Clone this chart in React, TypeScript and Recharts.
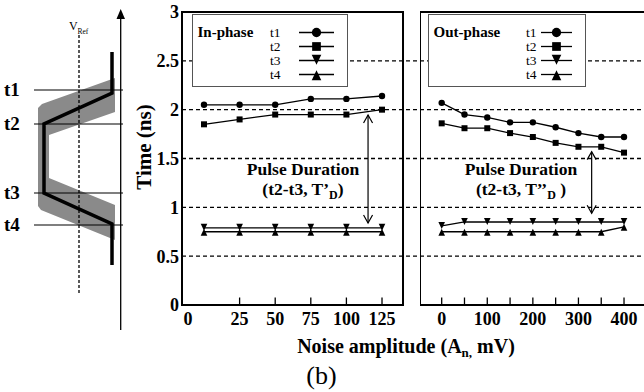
import React from 'react';
import {
  LineChart,
  Line,
  XAxis,
  YAxis,
  CartesianGrid,
  ReferenceArea,
  ReferenceLine,
  ReferenceDot,
  Legend,
} from 'recharts';

const FONT = '"Liberation Serif", "Times New Roman", "DejaVu Serif", serif';

// ---- data: In-phase panel ----
const inPhaseAmp = [0, 25, 50, 75, 100, 125];
const inPhaseT1 = [2.05, 2.05, 2.05, 2.11, 2.11, 2.14];
const inPhaseT2 = [1.85, 1.9, 1.95, 1.95, 1.95, 2.0];
const inPhaseT3 = [0.79, 0.79, 0.79, 0.79, 0.79, 0.79];
const inPhaseT4 = [0.75, 0.75, 0.75, 0.75, 0.75, 0.75];

// ---- data: Out-phase panel ----
const outPhaseAmp = [0, 50, 100, 150, 200, 250, 300, 350, 400];
const outPhaseT1 = [2.07, 1.95, 1.92, 1.87, 1.87, 1.82, 1.76, 1.72, 1.72];
const outPhaseT2 = [1.86, 1.81, 1.81, 1.76, 1.72, 1.66, 1.62, 1.62, 1.56];
const outPhaseT3 = [0.81, 0.85, 0.85, 0.85, 0.85, 0.85, 0.85, 0.85, 0.85];
const outPhaseT4 = [0.75, 0.75, 0.75, 0.75, 0.75, 0.75, 0.75, 0.75, 0.8];

// ---- labels / ticks ----
const seriesNames = ['t1', 't2', 't3', 't4'];
const markerKinds = ['circle', 'square', 'down', 'up'];
const timeTicks = [0, 0.5, 1, 1.5, 2, 2.5, 3];
const gridValues = [0.5, 1, 1.5, 2, 2.5];
const inPhaseTicks = [0, 25, 50, 75, 100, 125];
const outPhaseTicks = [0, 50, 100, 150, 200, 250, 300, 350, 400];
const outPhaseLabelTicks = [0, 100, 200, 300, 400];

const inRows = inPhaseAmp.map((a, i) => ({
  amp: a,
  t1: inPhaseT1[i],
  t2: inPhaseT2[i],
  t3: inPhaseT3[i],
  t4: inPhaseT4[i],
}));
const outRows = outPhaseAmp.map((a, i) => ({
  amp: a,
  t1: outPhaseT1[i],
  t2: outPhaseT2[i],
  t3: outPhaseT3[i],
  t4: outPhaseT4[i],
}));

// panel geometry (axis domains)
const inDomain: [number, number] = [-15.45, 151.68];
const inBoxRight = 139.75;
const outDomain: [number, number] = [-47.6, 457.0];

function Marker({ kind, cx, cy, s = 1 }: any) {
  if (cx == null || cy == null) return null;
  switch (kind) {
    case 'circle':
      return <circle cx={cx} cy={cy} r={3.2 * s} fill="#000" />;
    case 'square':
      return <rect x={cx - 3 * s} y={cy - 3 * s} width={6 * s} height={6 * s} fill="#000" />;
    case 'down':
      return (
        <path
          d={`M${cx - 3.3 * s},${cy - 4 * s}L${cx + 3.3 * s},${cy - 4 * s}L${cx},${cy + 3 * s}Z`}
          fill="#000"
        />
      );
    default:
      return (
        <path
          d={`M${cx - 3.3 * s},${cy + 4 * s}L${cx + 3.3 * s},${cy + 4 * s}L${cx},${cy - 3 * s}Z`}
          fill="#000"
        />
      );
  }
}

function makeTick(labelSet: number[], markSet: number[], shiftZero: number) {
  return (props: any) => {
    const { x, y, payload } = props;
    const v = payload.value;
    return (
      <g>
        {markSet.includes(v) && <line x1={x} y1={y} x2={x} y2={y - 7.5} stroke="#000" strokeWidth={1.3} />}
        {labelSet.includes(v) && (
          <text
            x={x + (v === 0 ? shiftZero : 0)}
            y={y + 20}
            textAnchor="middle"
            fontFamily={FONT}
            fontWeight="bold"
            fontSize={18}
            fill="#000"
          >
            {v}
          </text>
        )}
      </g>
    );
  };
}

function LegendContent({ title, width, textX, lineX1, lineX2 }: any) {
  const rowsY = [17.5, 31.5, 45.5, 59.5];
  const baseY = [21.5, 35.5, 49.5, 63.5];
  const mx = (lineX1 + lineX2) / 2;
  return (
    <div
      style={{
        width,
        height: 73,
        boxSizing: 'border-box',
        border: '1.5px solid #555',
        background: '#fff',
      }}
    >
      <svg width={width - 3} height={70} style={{ display: 'block' }}>
        <text x={4.5} y={21.5} fontFamily={FONT} fontWeight="bold" fontSize={15} fill="#000">
          {title}
        </text>
        {seriesNames.map((n, i) => (
          <g key={n}>
            <text x={textX} y={baseY[i]} fontFamily={FONT} fontSize={13.5} fill="#000">
              {n}
            </text>
            <line x1={lineX1} y1={rowsY[i]} x2={lineX2} y2={rowsY[i]} stroke="#000" strokeWidth={1.3} />
            <Marker kind={markerKinds[i]} cx={mx} cy={rowsY[i]} s={1.45} />
          </g>
        ))}
      </svg>
    </div>
  );
}

const ArrowShape = (props: any) => {
  const { x1, y1, x2, y2 } = props;
  const top = Math.min(y1, y2);
  const bot = Math.max(y1, y2);
  return (
    <g>
      <line x1={x1} y1={top} x2={x2} y2={bot} stroke="#000" strokeWidth={1.2} />
      <polyline points={`${x1 - 4.5},${top + 8} ${x1},${top} ${x1 + 4.5},${top + 8}`} fill="none" stroke="#000" strokeWidth={1.2} />
      <polyline points={`${x1 - 4.5},${bot - 8} ${x1},${bot} ${x1 + 4.5},${bot - 8}`} fill="none" stroke="#000" strokeWidth={1.2} />
    </g>
  );
};

const makeAnnotation = (primes: string, gap: string) => (props: any) => {
  const { cx, cy } = props;
  return (
    <g>
      <text x={cx} y={cy - 1} textAnchor="middle" fontFamily={FONT} fontWeight="bold" fontSize={17.5} fill="#000">
        Pulse Duration
      </text>
      <text x={cx} y={cy + 19} textAnchor="middle" fontFamily={FONT} fontWeight="bold" fontSize={17.5} fill="#000">
        {`(t2-t3, T${primes}`}
        <tspan fontSize={12} dy={4}>
          D
        </tspan>
        <tspan dy={-4}>{`${gap})`}</tspan>
      </text>
    </g>
  );
};

function renderLines() {
  return seriesNames.map((n, i) => (
    <Line
      key={n}
      dataKey={n}
      name={n}
      type="linear"
      stroke="#000"
      strokeWidth={1.3}
      isAnimationActive={false}
      activeDot={false}
      dot={(p: any) => <Marker key={`${n}-${p.index}`} kind={markerKinds[i]} cx={p.cx} cy={p.cy} />}
    />
  ));
}

export default function App() {
  return (
    <div
      style={{
        position: 'absolute',
        left: 0,
        top: 0,
        width: 644,
        height: 392,
        overflow: 'hidden',
        background: '#fff',
      }}
    >
      {/* In-phase panel */}
      <div style={{ position: 'absolute', left: 0, top: 0 }}>
        <LineChart width={420} height={392} data={inRows} margin={{ top: 12, right: 0, bottom: 57, left: 142 }}>
          <CartesianGrid
            vertical={false}
            horizontalValues={gridValues}
            stroke="#000"
            strokeDasharray="4 3"
            strokeWidth={1.3}
          />
          <XAxis
            dataKey="amp"
            type="number"
            domain={inDomain}
            ticks={inPhaseTicks}
            interval={0}
            height={30}
            axisLine={false}
            tickLine={false}
            tickSize={0}
            tickMargin={0}
            tick={makeTick(inPhaseTicks, inPhaseTicks.filter((t) => t !== 0), -16)}
          />
          <YAxis
            type="number"
            domain={[0, 3]}
            ticks={timeTicks}
            interval={0}
            width={40}
            axisLine={false}
            tickLine={false}
            tickSize={0}
            tickMargin={3}
            tick={{ fontFamily: FONT, fontWeight: 'bold', fontSize: 18, fill: '#000' }}
          />
          <ReferenceArea x1={inDomain[0]} x2={inBoxRight} y1={0} y2={3} fill="none" stroke="#000" strokeWidth={2} />
          {renderLines()}
          <ReferenceLine
            segment={[
              { x: 115.2, y: 1.945 },
              { x: 115.2, y: 0.84 },
            ]}
            shape={ArrowShape}
          />
          <ReferenceDot x={69.5} y={1.32} r={1} shape={makeAnnotation('’', '')} />
          <Legend
            layout="horizontal"
            verticalAlign="middle"
            align="center"
            wrapperStyle={{ left: 191.7, top: 14, width: 156, height: 73 }}
            content={() => <LegendContent title="In-phase" width={156} textX={77} lineX1={106} lineX2={141} />}
          />
        </LineChart>
      </div>

      {/* Out-phase panel */}
      <div style={{ position: 'absolute', left: 420, top: 0 }}>
        <LineChart width={230} height={392} data={outRows} margin={{ top: 12, right: 0, bottom: 57, left: 0 }}>
          <CartesianGrid
            vertical={false}
            horizontalValues={gridValues}
            stroke="#000"
            strokeDasharray="4 3"
            strokeWidth={1.3}
          />
          <XAxis
            dataKey="amp"
            type="number"
            domain={outDomain}
            ticks={outPhaseTicks}
            interval={0}
            height={30}
            axisLine={false}
            tickLine={false}
            tickSize={0}
            tickMargin={0}
            tick={makeTick(outPhaseLabelTicks, outPhaseTicks, 0)}
          />
          <YAxis hide type="number" domain={[0, 3]} />
          <ReferenceArea x1={outDomain[0]} x2={outDomain[1]} y1={0} y2={3} fill="none" stroke="#000" strokeWidth={2} />
          {renderLines()}
          <ReferenceLine
            segment={[
              { x: 329, y: 1.57 },
              { x: 329, y: 0.94 },
            ]}
            shape={ArrowShape}
          />
          <ReferenceDot x={174} y={1.32} r={1} shape={makeAnnotation('’’', ' ')} />
          <Legend
            layout="horizontal"
            verticalAlign="middle"
            align="center"
            wrapperStyle={{ left: 8, top: 14, width: 158, height: 73 }}
            content={() => <LegendContent title="Out-phase" width={158} textX={97} lineX1={112} lineX2={143} />}
          />
        </LineChart>
      </div>

      {/* schematic, axis titles */}
      <svg width={644} height={392} style={{ position: 'absolute', left: 0, top: 0, pointerEvents: 'none' }}>
        <polygon
          points="115,78 115,112 49,135 49,178 115,205 115,240 41,210 38,206 38,108 42,104"
          fill="#8a8a8a"
        />
        <line x1={79} y1={35} x2={79} y2={293} stroke="#000" strokeWidth={1.3} strokeDasharray="3 2" />
        {[90, 124, 193, 225].map((yy) => (
          <line key={yy} x1={34} y1={yy} x2={123} y2={yy} stroke="#000" strokeWidth={1.2} />
        ))}
        <polyline
          points="112,52 112,93 44,124 44,193 112,224 112,265"
          fill="none"
          stroke="#000"
          strokeWidth={3.5}
          strokeLinejoin="miter"
        />
        <line x1={120.7} y1={16} x2={120.7} y2={330} stroke="#000" strokeWidth={1.3} />
        <polygon points="120.7,9 116.5,19 125,19" fill="#000" />
        <text x={69} y={30} fontFamily={FONT} fontSize={12} fill="#000">
          V
        </text>
        <text x={77.5} y={33.5} fontFamily={FONT} fontSize={7.5} fill="#000">
          Ref
        </text>
        {seriesNames.map((n, i) => (
          <text key={n} x={4} y={[96, 130, 199, 231][i]} fontFamily={FONT} fontWeight="bold" fontSize={19} fill="#000">
            {n}
          </text>
        ))}
        <text
          x={0}
          y={0}
          transform="translate(151,147) rotate(-90)"
          textAnchor="middle"
          fontFamily={FONT}
          fontWeight="bold"
          fontSize={21}
          fill="#000"
        >
          Time (ns)
        </text>
        <text x={406} y={353} textAnchor="middle" fontFamily={FONT} fontWeight="bold" fontSize={20} fill="#000">
          Noise amplitude (A
          <tspan fontSize={13} dy={4}>
            n,
          </tspan>
          <tspan dy={-4}> mV)</tspan>
        </text>
        <text x={321.5} y={384} textAnchor="middle" fontFamily={FONT} fontSize={26} fill="#000">
          (b)
        </text>
      </svg>
    </div>
  );
}
